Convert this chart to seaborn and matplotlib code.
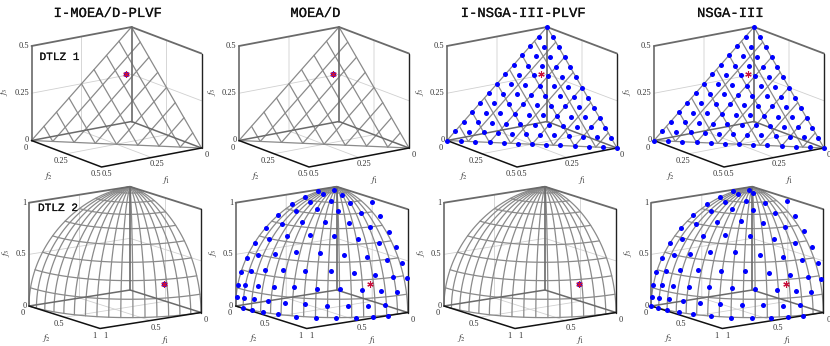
#Imports
import numpy as np
import matplotlib
matplotlib.use('Agg')
import matplotlib.pyplot as plt
import matplotlib.patheffects as pe
import seaborn as sns

#Titles and labels
titles = ['I-MOEA/D-PLVF', 'MOEA/D', 'I-NSGA-III-PLVF', 'NSGA-III']
row_names = ['DTLZ 1', 'DTLZ 2']
row_ticks = [[0, 0.25, 0.5], [0, 0.5, 1]]
row_ticklabels = [['0', '0.25', '0.5'], ['0', '0.5', '1']]
row_scale = [0.5, 1.0]

#Reference point of each row
pref = [(0.1, 0.1, 0.3), (0.3, 0.9, 0.3)]

#Surface mesh levels
tri_levels = [0, 0.0625, 0.125, 0.1875, 0.25, 0.3125, 0.375, 0.4375, 0.5]
lon_levels = [0, 5.625, 11.25, 16.875, 22.5, 28.125, 33.75, 39.375, 45, 50.625, 56.25, 61.875, 67.5, 73.125, 78.75, 84.375, 90]
lat_levels = [0, 10, 20, 30, 40, 50, 60, 70, 80]

#DTLZ1 solutions (NSGA-III panels)
dtlz1_f1 = [.5, .458, .417, .375, .333, .292, .25, .208, .167, .125, .083, .042, 0,
            .458, .417, .375, .333, .292, .25, .208, .167, .125, .083, .042, 0,
            .417, .375, .333, .292, .25, .208, .167, .125, .083, .042, 0,
            .375, .333, .292, .25, .208, .167, .125, .083, .042, 0,
            .333, .292, .25, .208, .167, .125, .083, .042, 0,
            .292, .25, .208, .167, .125, .083, .042, 0,
            .25, .208, .167, .125, .083, .042, 0,
            .208, .167, .125, .083, .042, 0,
            .167, .125, .083, .042, 0,
            .125, .083, .042, 0,
            .083, .042, 0,
            .042, 0,
            0]
dtlz1_f2 = [0, .042, .083, .125, .167, .208, .25, .292, .333, .375, .417, .458, .5,
            0, .042, .083, .125, .167, .208, .25, .292, .333, .375, .417, .458,
            0, .042, .083, .125, .167, .208, .25, .292, .333, .375, .417,
            0, .042, .083, .125, .167, .208, .25, .292, .333, .375,
            0, .042, .083, .125, .167, .208, .25, .292, .333,
            0, .042, .083, .125, .167, .208, .25, .292,
            0, .042, .083, .125, .167, .208, .25,
            0, .042, .083, .125, .167, .208,
            0, .042, .083, .125, .167,
            0, .042, .083, .125,
            0, .042, .083,
            0, .042,
            0]
dtlz1_f3 = [0, 0, 0, 0, 0, 0, 0, 0, 0, 0, 0, 0, 0,
            .042, .042, .042, .042, .042, .042, .042, .042, .042, .042, .042, .042,
            .083, .083, .083, .083, .083, .083, .083, .083, .083, .083, .083,
            .125, .125, .125, .125, .125, .125, .125, .125, .125, .125,
            .167, .167, .167, .167, .167, .167, .167, .167, .167,
            .208, .208, .208, .208, .208, .208, .208, .208,
            .25, .25, .25, .25, .25, .25, .25,
            .292, .292, .292, .292, .292, .292,
            .333, .333, .333, .333, .333,
            .375, .375, .375, .375,
            .417, .417, .417,
            .458, .458,
            .5]

#DTLZ2 solutions of MOEA/D
moead_f1 = [.171,.073,.197,.090,.309,.342,.222,.104,.441,-.124,.374,.250,.104,.485,.581,-.059,.406,.255,.530,.631,.118,.699,-.036,.566,.420,.265,.676,.761,.811,.116,-.032,.577,.425,.260,.706,.801,.863,.890,.108,-.028,.562,.407,.251,.705,.820,.887,.926,.947,.098,-.031,.680,.530,.379,.231,.086,.804,.892,.946,.967,.979,.996,.990,.975,.928,.858,.761,.634,.493,.340,.209,.996,.978,.950,.892,.824,.715,.595,.451,.318,.198]
moead_f2 = [-.025,.071,.092,.198,-.007,.111,.235,.339,-.002,.316,.250,.379,.486,.121,.004,.526,.413,.536,.266,.123,.636,-.006,.681,.429,.564,.677,.266,.129,.003,.765,.795,.581,.712,.801,.427,.266,.124,-.003,.866,.884,.715,.823,.897,.562,.414,.252,.105,-.001,.927,.942,.685,.801,.895,.948,.967,.537,.386,.241,.084,-.003,.008,.107,.222,.349,.493,.636,.765,.865,.929,.978,.097,.193,.317,.447,.599,.721,.836,.909,.959,1.000]
moead_f3 = [.982,.995,.976,.976,.950,.932,.947,.935,.897,.904,.893,.889,.870,.866,.817,.822,.814,.801,.801,.763,.763,.710,.707,.710,.707,.682,.682,.636,.584,.639,.584,.577,.563,.537,.570,.534,.496,.450,.492,.446,.427,.407,.383,.419,.411,.383,.350,.317,.346,.313,.267,.263,.250,.229,.208,.267,.255,.238,.216,.199,.092,.096,.109,.113,.118,.118,.113,.113,.100,.100,.004,.000,.000,.000,.000,.000,.000,.000,.000,.000]

#DTLZ2 solutions of NSGA-III
nsga_f1 = [.173,.079,.201,.096,.310,.349,.226,.117,.441,-.126,.378,.252,.110,.491,.579,-.055,.401,.262,.534,.633,.121,.703,-.026,.568,.419,.265,.678,.762,.815,.118,-.030,.580,.425,.262,.712,.801,.865,.894,.112,-.027,.569,.407,.255,.707,.815,.894,.926,.951,.097,-.018,.686,.534,.383,.235,.102,.808,.894,.940,.967,.983,1.000,.994,.969,.930,.862,.765,.633,.493,.344,.215,1.002,1.000,.980,.954,.896,.812,.719,.587,.455,.322,.202]
nsga_f2 = [-.030,.067,.089,.151,-.014,.107,.233,.345,-.011,.305,.247,.372,.482,.117,-.006,.527,.407,.528,.263,.107,.632,-.009,.687,.428,.564,.677,.265,.098,.000,.764,.793,.581,.712,.800,.422,.266,.123,-.005,.864,.883,.707,.819,.894,.561,.399,.248,.106,-.004,.928,.947,.685,.803,.892,.945,.976,.534,.385,.226,.099,-.005,.005,.104,.206,.347,.490,.633,.756,.856,.927,.974,-.001,.094,.192,.320,.444,.578,.718,.827,.906,.956,.997]
nsga_f3 = [.982,.995,.976,.983,.948,.932,.947,.932,.895,.908,.893,.891,.870,.866,.814,.819,.822,.804,.801,.763,.766,.710,.713,.710,.710,.682,.682,.636,.584,.639,.584,.581,.563,.537,.570,.534,.496,.450,.492,.446,.423,.403,.383,.419,.407,.383,.350,.317,.346,.313,.271,.267,.250,.229,.212,.267,.255,.233,.216,.199,.092,.096,.105,.113,.118,.118,.118,.118,.100,.100,.000,.004,.000,.004,.000,.000,.000,.000,.000,.000,.000]

#Layout in pixels: the back corner of each box and the three box edges
W, H = 830, 346
back_x = [[131.5, 339, 547, 754], [130, 336.7, 545, 752.3]]
back_y = [121.5, 290]
row_e1 = [(-100, 19), (-101, 16)]
row_e2 = [(70, 26.5), (71, 22.5)]
row_e3 = [(0, -94.5), (0, -103.3)]

MESH = '#8a8a8a'
BOX = '#6a6a6a'
GRID = '#d0d0d0'
STAR = '#c8103c'
TEXT = '#333333'

sns.set_theme(style='white')
plt.rcParams['font.family'] = ['Liberation Serif', 'DejaVu Serif']
plt.rcParams['mathtext.fontset'] = 'stix'

fig = plt.figure(figsize=(W / 100, H / 100), dpi=100)
mono_stroke = [pe.withStroke(linewidth=0.15, foreground='#111111')]

for row in range(2):
    s = row_scale[row]
    e1, e2, e3 = row_e1[row], row_e2[row], row_e3[row]

    def proj(f1, f2, f3):
        f1, f2, f3 = np.asarray(f1, float) / s, np.asarray(f2, float) / s, np.asarray(f3, float) / s
        return f1 * e1[0] + f2 * e2[0] + f3 * e3[0], f1 * e1[1] + f2 * e2[1] + f3 * e3[1]

    for col in range(4):
        bx, by = back_x[row][col], back_y[row]
        ax = fig.add_axes([0, 0, 1, 1])
        ax.set_xlim(-bx, W - bx)
        ax.set_ylim(H - by, -by)
        ax.axis('off')
        ax.patch.set_alpha(0)

        def line(a, b, c, **kw):
            x, y = proj(a, b, c)
            ax.plot(x, y, clip_on=False, solid_capstyle='round', **kw)

        #Grid on the walls and floor
        m = row_ticks[row][1]
        line([s, 0, 0], [0, 0, s], [m, m, m], color=GRID, lw=0.6)
        line([m, m, m], [s, 0, 0], [0, 0, s], color=GRID, lw=0.6)
        line([s, 0, 0], [m, m, m], [0, 0, s], color=GRID, lw=0.6)

        #Surface mesh
        if row == 0:
            for v in tri_levels:
                line([v, v], [0, s - v], [s - v, 0], color=MESH, lw=0.9)
                line([0, s - v], [v, v], [s - v, 0], color=MESH, lw=0.9)
            line([s, 0], [0, s], [0, 0], color=MESH, lw=0.9)
        else:
            u = np.radians(np.linspace(0, 90, 61))
            for lon in lon_levels:
                p = np.radians(lon)
                line(np.cos(u) * np.cos(p), np.cos(u) * np.sin(p), np.sin(u), color=MESH, lw=0.9)
            for lat in lat_levels:
                t = np.radians(lat)
                line(np.cos(t) * np.cos(u), np.cos(t) * np.sin(u), np.sin(t) * np.ones_like(u), color=MESH, lw=0.9)

        #Box edges
        line([s, 0, 0], [0, 0, s], [0, 0, 0], color=BOX, lw=1.1)
        line([s, 0, 0], [0, 0, s], [s, s, s], color=BOX, lw=1.3)
        line([0, 0], [0, 0], [0, s], color=BOX, lw=1.2)
        line([s, s], [0, 0], [0, s], color=BOX, lw=1.2)
        line([0, 0], [s, s], [0, s], color='#222222', lw=1.0)
        line([s, s, 0], [0, s, s], [0, 0, 0], color='#111111', lw=1.1)

        #Tick labels and axis names
        for v, lab in zip(row_ticks[row], row_ticklabels[row]):
            x, y = proj(s, 0, v)
            ax.text(x - 2.5, y, lab, ha='right', va='center', fontsize=6, color=TEXT)
            x, y = proj(s, v, 0)
            ax.text(x - 6, y + 7, lab, ha='center', va='center', fontsize=6, color=TEXT)
            x, y = proj(v, s, 0)
            ax.text(x + 5, y + 7, lab, ha='center', va='center', fontsize=6, color=TEXT)
        x0 = proj(s, 0, s)[0]
        ax.text(x0 - (27 - 4 * row), proj(s, 0, s / 2)[1] - 2, '$f_3$', rotation=90, ha='center', va='center', fontsize=6.5, color=TEXT)
        ax.text(-83.5, 55 - 7 * row, '$f_2$', ha='center', va='center', fontsize=6.5, color=TEXT)
        ax.text(35, 59 - 8.5 * row, '$f_1$', ha='center', va='center', fontsize=6.5, color=TEXT)

        #Solutions
        pts = None
        if row == 0 and col >= 2:
            pts = (dtlz1_f1, dtlz1_f2, dtlz1_f3)
        elif row == 1 and col == 1:
            pts = (moead_f1, moead_f2, moead_f3)
        elif row == 1 and col == 3:
            pts = (nsga_f1, nsga_f2, nsga_f3)
        if pts is not None:
            x, y = proj(*pts)
            sns.scatterplot(x=x, y=y, ax=ax, color='blue', s=13, linewidth=0, clip_on=False, zorder=5)

        #Reference point, covered by the single solution where there is only one
        x, y = proj([pref[row][0]], [pref[row][1]], [pref[row][2]])
        if pts is None:
            sns.scatterplot(x=x, y=y, ax=ax, color='blue', s=15, linewidth=0, clip_on=False, zorder=5)
        ax.plot(x, y, marker=(6, 2, 0), ms=4.6, mew=0.8, color=STAR, ls='none', clip_on=False, zorder=6)

        if row == 0:
            ax.text(-23.5, 13 - by, titles[col], ha='center', va='center', fontsize=10,
                    family='Liberation Mono', color='#111111', path_effects=mono_stroke)
        if col == 0:
            ax.text(-92, (57 if row == 0 else 208) - by, row_names[row], ha='left', va='center', fontsize=8,
                    family='Liberation Mono', color='#111111', path_effects=mono_stroke)

fig.savefig('out.png', dpi=100)
plt.close()
